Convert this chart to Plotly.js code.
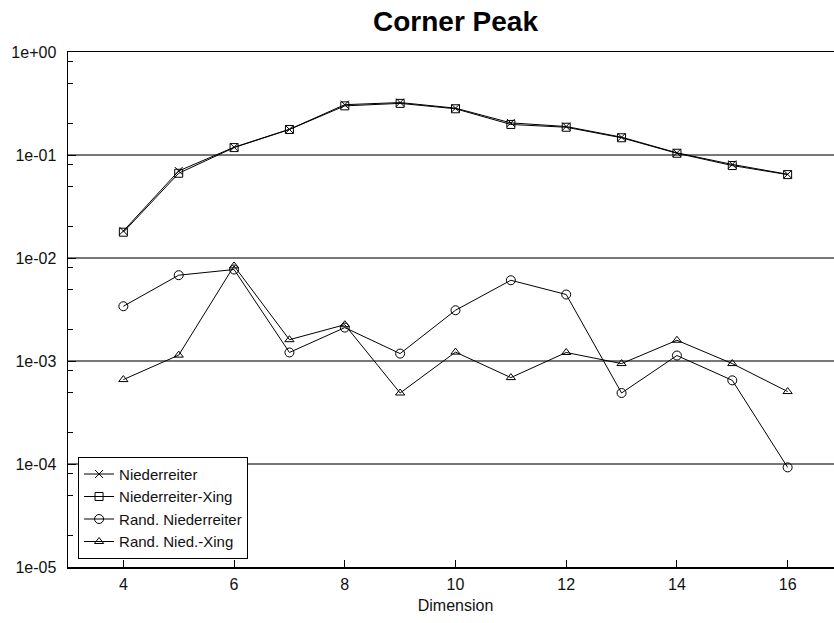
<!DOCTYPE html>
<html>
<head>
<meta charset="utf-8">
<script src="https://cdn.plot.ly/plotly-3.0.1.min.js"></script>
<style>
html, body { margin: 0; padding: 0; overflow: hidden; background: #fff; }
#chart { width: 843px; height: 623px; }
</style>
</head>
<body>
<div id="chart"></div>
<script>
const dimension = [4, 5, 6, 7, 8, 9, 10, 11, 12, 13, 14, 15, 16];
const niederreiter = [0.0183, 0.0700, 0.1190, 0.1775, 0.3080, 0.3230, 0.2850, 0.2050, 0.1890, 0.1490, 0.1050, 0.0810, 0.0650];
const niederreiterXing = [0.0178, 0.0665, 0.1180, 0.1770, 0.3000, 0.3170, 0.2810, 0.1980, 0.1860, 0.1470, 0.1040, 0.0790, 0.0645];
const randNiederreiter = [0.00340, 0.00681, 0.00773, 0.00121, 0.00211, 0.00118, 0.00311, 0.00608, 0.00442, 0.000489, 0.00113, 0.000649, 0.0000927];
const randNiedXing = [0.000660, 0.00114, 0.00838, 0.00161, 0.00225, 0.000489, 0.00122, 0.000690, 0.00121, 0.000944, 0.00159, 0.000944, 0.000505];
const seriesNames = ["Niederreiter", "Niederreiter-Xing", "Rand. Niederreiter", "Rand. Nied.-Xing"];
const yTickVals = [1e-5, 1e-4, 1e-3, 1e-2, 1e-1, 1];
const yTickText = ["1e-05", "1e-04", "1e-03", "1e-02", "1e-01", "1e+00"];
const yMinorVals = [2e-5, 5e-5, 8e-5, 2e-4, 5e-4, 8e-4, 2e-3, 5e-3, 8e-3, 2e-2, 5e-2, 8e-2, 0.2, 0.5, 0.8];
const xTickVals = [4, 6, 8, 10, 12, 14, 16];

const symbols = ["x-thin-open", "square-open", "circle-open", "triangle-up-open"];
const sizes = [8, 8, 9, 8];
const values = [niederreiter, niederreiterXing, randNiederreiter, randNiedXing];

const traces = values.map((v, i) => ({
  x: dimension,
  y: v,
  name: seriesNames[i],
  type: "scatter",
  mode: "lines+markers",
  line: { color: "#000", width: 1 },
  marker: { symbol: symbols[i], size: sizes[i], color: "#000", line: { color: "#000", width: 1 } }
}));

const layout = {
  width: 843,
  height: 623,
  margin: { l: 68, r: 0, t: 52, b: 56 },
  paper_bgcolor: "#fff",
  plot_bgcolor: "#fff",
  font: { family: "Liberation Sans, Arial, sans-serif", size: 16, color: "#111" },
  title: {
    text: "<b>Corner Peak</b>",
    font: { family: "Liberation Sans, Arial, sans-serif", size: 28, color: "#000" },
    x: 0.5, xanchor: "center", xref: "paper",
    y: 0.966, yanchor: "middle"
  },
  xaxis: {
    range: [3, 17],
    tickmode: "array",
    tickvals: xTickVals,
    ticks: "inside",
    ticklen: 7,
    tickcolor: "#000",
    showgrid: false,
    zeroline: false,
    showline: true,
    linecolor: "#000",
    linewidth: 1.5,
    mirror: true,
    ticklabelstandoff: 2,
    tickfont: { size: 16, color: "#111" },
    title: { text: "Dimension", font: { size: 16, color: "#111" }, standoff: 8 }
  },
  yaxis: {
    type: "log",
    range: [-5, 0],
    tickmode: "array",
    tickvals: yTickVals,
    ticktext: yTickText,
    ticks: "inside",
    ticklen: 8,
    tickcolor: "#000",
    showgrid: true,
    gridcolor: "#777",
    gridwidth: 1.2,
    zeroline: false,
    showline: true,
    linecolor: "#000",
    linewidth: 1.5,
    ticklabelstandoff: 7,
    tickfont: { size: 16, color: "#111" },
    minor: { tickmode: "array", tickvals: yMinorVals, ticks: "inside", ticklen: 5, tickcolor: "#000", showgrid: false }
  },
  showlegend: true,
  legend: {
    x: 0.013, xanchor: "left",
    y: 0.016, yanchor: "bottom",
    bgcolor: "#fff",
    bordercolor: "#000",
    borderwidth: 1,
    font: { size: 15, color: "#111" },
    tracegroupgap: 0
  }
};

Plotly.newPlot("chart", traces, layout, { displayModeBar: false, staticPlot: true });
</script>
</body>
</html>
